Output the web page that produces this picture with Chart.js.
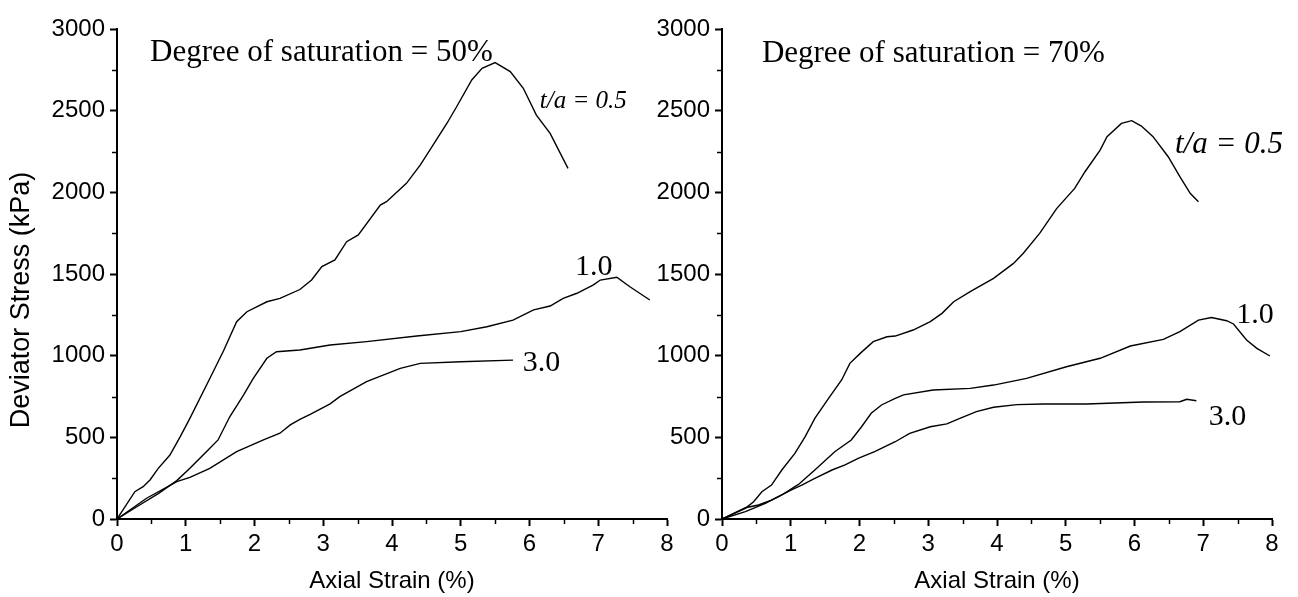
<!DOCTYPE html>
<html>
<head>
<meta charset="utf-8">
<script src="https://cdn.jsdelivr.net/npm/chart.js@4"></script>
<style>
  html, body { margin: 0; padding: 0; background: #fff; }
  #wrap { position: relative; width: 1298px; height: 597px; overflow: hidden; }
  canvas { position: absolute; top: 0; }
  #left { left: 0; }
  #right { left: 640px; }
</style>
</head>
<body>
<div id="wrap">
  <canvas id="left" width="690" height="597"></canvas>
  <canvas id="right" width="658" height="597"></canvas>
</div>
<script>
// Degree of saturation = 50%
const s50Strain05 = [0, 0.26, 0.38, 0.48, 0.6, 0.77, 0.92, 1.06, 1.35, 1.55, 1.74, 1.89, 2.18, 2.37, 2.66, 2.83, 2.98, 3.17, 3.34, 3.51, 3.83, 3.92, 4.21, 4.41, 4.55, 4.8, 4.94, 5.16, 5.31, 5.5, 5.72, 5.91, 6.1, 6.3, 6.56]
const s50Stress05 = [0, 167, 198, 239, 310, 392, 504, 616, 860, 1030, 1208, 1269, 1330, 1351, 1405, 1463, 1545, 1586, 1698, 1739, 1922, 1943, 2055, 2167, 2259, 2423, 2524, 2688, 2759, 2794, 2739, 2637, 2473, 2361, 2147]
const s50Strain10 = [0, 0.3, 0.6, 0.87, 1.06, 1.3, 1.47, 1.64, 1.84, 1.98, 2.18, 2.32, 2.66, 3.1, 3.63, 4.36, 5.0, 5.38, 5.76, 6.06, 6.3, 6.49, 6.69, 6.93, 7.03, 7.27, 7.46, 7.75]
const s50Stress10 = [0, 78, 155, 235, 310, 412, 484, 626, 759, 860, 984, 1024, 1035, 1065, 1086, 1120, 1147, 1177, 1218, 1280, 1304, 1351, 1382, 1433, 1463, 1480, 1422, 1341]
const s50Strain30 = [0, 0.43, 0.87, 1.06, 1.35, 1.74, 2.13, 2.37, 2.52, 2.66, 2.81, 2.9, 3.1, 3.24, 3.63, 4.12, 4.41, 5.0, 5.76]
const s50Stress30 = [0, 127, 229, 255, 310, 412, 484, 525, 576, 610, 640, 660, 705, 749, 841, 922, 953, 963, 973]

// Degree of saturation = 70%
const s70Strain05 = [0, 0.34, 0.46, 0.58, 0.72, 0.87, 1.06, 1.21, 1.35, 1.55, 1.74, 1.86, 2.01, 2.2, 2.4, 2.52, 2.78, 3.03, 3.2, 3.37, 3.61, 3.95, 4.24, 4.38, 4.62, 4.87, 5.13, 5.28, 5.5, 5.6, 5.81, 5.96, 6.1, 6.27, 6.49, 6.66, 6.81, 6.93]
const s70Stress05 = [0, 65, 106, 167, 208, 300, 402, 504, 616, 739, 851, 953, 1014, 1086, 1116, 1120, 1157, 1208, 1259, 1330, 1392, 1473, 1565, 1626, 1749, 1902, 2024, 2126, 2259, 2341, 2422, 2439, 2406, 2341, 2218, 2096, 1994, 1943]
const s70Strain10 = [0, 0.34, 0.63, 0.87, 1.06, 1.12, 1.35, 1.64, 1.88, 2.03, 2.17, 2.32, 2.52, 2.64, 3.07, 3.61, 3.95, 4.43, 5.01, 5.5, 5.94, 6.42, 6.66, 6.93, 7.12, 7.34, 7.44, 7.63, 7.78, 7.97]
const s70Stress10 = [0, 45, 96, 147, 198, 214, 300, 412, 484, 565, 647, 698, 739, 760, 790, 800, 820, 861, 932, 984, 1059, 1100, 1147, 1218, 1234, 1214, 1194, 1096, 1045, 998]
const s70Strain30 = [0, 0.34, 0.53, 0.72, 1.01, 1.16, 1.35, 1.6, 1.79, 1.98, 2.22, 2.37, 2.52, 2.73, 3.03, 3.27, 3.46, 3.7, 3.95, 4.29, 4.67, 5.3, 6.13, 6.66, 6.76, 6.9]
const s70Stress30 = [0, 69, 86, 116, 178, 208, 249, 300, 331, 371, 412, 443, 473, 524, 565, 582, 616, 657, 684, 700, 704, 704, 716, 718, 733, 724]

const xMinorTicks = [0.5, 1.5, 2.5, 3.5, 4.5, 5.5, 6.5, 7.5]
const yMinorTicks = [250, 750, 1250, 1750, 2250, 2750]

const toPoints = (xs, ys) => xs.map((x, i) => ({ x: x, y: ys[i] }))

const SANS = "'Liberation Sans', Arial, sans-serif"
const SERIF = "'Liberation Serif', 'Times New Roman', serif"

// minor ticks, y title and in-plot text, placed through the chart scales
const extras = {
  id: 'extras',
  afterDraw(chart, args, opts) {
    const { ctx, chartArea, scales: { x, y } } = chart
    ctx.save()
    ctx.strokeStyle = '#000'
    ctx.lineWidth = 1.5
    xMinorTicks.forEach(v => {
      const px = Math.round(x.getPixelForValue(v)) + 0.5
      ctx.beginPath()
      ctx.moveTo(px, y.bottom)
      ctx.lineTo(px, y.bottom + 5)
      ctx.stroke()
    })
    yMinorTicks.forEach(v => {
      const py = Math.round(y.getPixelForValue(v)) + 0.5
      ctx.beginPath()
      ctx.moveTo(x.left, py)
      ctx.lineTo(x.left - 5, py)
      ctx.stroke()
    })
    ctx.fillStyle = '#000'
    if (opts.yTitle) {
      ctx.save()
      ctx.translate(22, chartArea.top + chartArea.height * 0.553)
      ctx.rotate(-Math.PI / 2)
      ctx.font = '27px ' + SANS
      ctx.textAlign = 'center'
      ctx.textBaseline = 'middle'
      ctx.fillText(opts.yTitle, 0, 0)
      ctx.restore()
    }
    ctx.textBaseline = 'alphabetic'
    ctx.textAlign = 'left'
    ;(opts.labels || []).forEach(l => {
      ctx.font = l.font
      ctx.fillText(l.text, x.getPixelForValue(l.x), y.getPixelForValue(l.y))
    })
    ctx.restore()
  }
}

function makeChart(id, series, axisWidth, padRight, yTitle, labels) {
  return new Chart(document.getElementById(id), {
    type: 'scatter',
    data: {
      datasets: series.map(s => ({
        data: toPoints(s[0], s[1]),
        showLine: true,
        borderColor: '#000',
        borderWidth: 1.4,
        pointRadius: 0,
        tension: 0
      }))
    },
    options: {
      responsive: false,
      animation: false,
      layout: { padding: { top: 29, right: padRight, bottom: 0, left: 0 } },
      plugins: {
        legend: { display: false },
        tooltip: { enabled: false },
        extras: { labels: labels, yTitle: yTitle }
      },
      scales: {
        x: {
          type: 'linear',
          min: 0,
          max: 8,
          afterFit: (scale) => { scale.height = 78 },
          ticks: { stepSize: 1, color: '#000', padding: 4, callback: v => String(v), font: { family: SANS, size: 24 } },
          grid: { drawOnChartArea: false, drawTicks: true, tickLength: 7, tickWidth: 2, tickColor: '#000' },
          border: { display: true, color: '#000', width: 2 },
          title: { display: true, text: 'Axial Strain (%)', color: '#000', padding: { top: 0, bottom: 1 }, font: { family: SANS, size: 24 } }
        },
        y: {
          type: 'linear',
          min: 0,
          max: 3000,
          afterFit: (scale) => { scale.width = axisWidth },
          ticks: { stepSize: 500, color: '#000', padding: 5, callback: v => String(v), font: { family: SANS, size: 24 } },
          grid: { drawOnChartArea: false, drawTicks: true, tickLength: 7, tickWidth: 2, tickColor: '#000' },
          border: { display: true, color: '#000', width: 2 },
          title: { display: false }
        }
      }
    },
    plugins: [extras]
  })
}

const titleFont = '31px ' + SERIF
const numFont = '30px ' + SERIF

makeChart('left', [
  [s50Strain05, s50Stress05],
  [s50Strain10, s50Stress10],
  [s50Strain30, s50Stress30]
], 117, 23, 'Deviator Stress (kPa)', [
  { text: 'Degree of saturation = 50%', x: 0.48, y: 2804, font: titleFont },
  { text: 't/a = 0.5', x: 6.15, y: 2516, font: 'italic 25px ' + SERIF },
  { text: '1.0', x: 6.66, y: 1494, font: numFont },
  { text: '3.0', x: 5.9, y: 906, font: numFont }
])

makeChart('right', [
  [s70Strain05, s70Stress05],
  [s70Strain10, s70Stress10],
  [s70Strain30, s70Stress30]
], 82, 26, null, [
  { text: 'Degree of saturation = 70%', x: 0.58, y: 2798, font: titleFont },
  { text: 't/a = 0.5', x: 6.59, y: 2241, font: 'italic 31px ' + SERIF },
  { text: '1.0', x: 7.48, y: 1200, font: numFont },
  { text: '3.0', x: 7.08, y: 575, font: numFont }
])
</script>
</body>
</html>
